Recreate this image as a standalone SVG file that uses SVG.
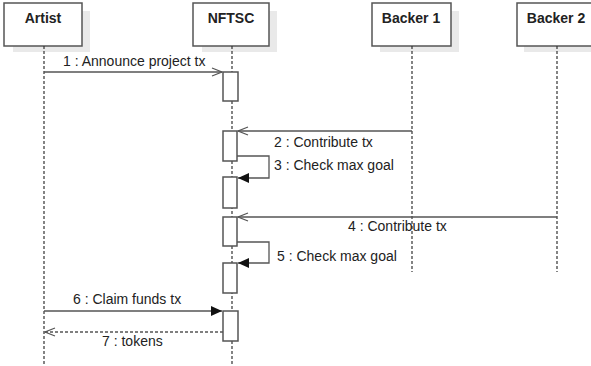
<svg xmlns="http://www.w3.org/2000/svg" width="591" height="366" viewBox="0 0 591 366">
<defs>
<style>
.box{fill:#fff;stroke:#555;stroke-width:1.5}
.shadow{fill:#e9e9e9}
.title{font-family:"Liberation Sans",Arial,sans-serif;font-weight:bold;font-size:14px;fill:#222;text-anchor:middle}
.life{stroke:#333;stroke-width:1.2;stroke-dasharray:3,2;fill:none}
.act{fill:#fff;stroke:#555;stroke-width:1.5}
.msg{stroke:#555;stroke-width:1.3;fill:none}
.ret{stroke:#555;stroke-width:1.3;fill:none;stroke-dasharray:3,2}
.lbl{font-family:"Liberation Sans",Arial,sans-serif;font-size:14px;fill:#222}
</style>
<marker id="open" markerWidth="12" markerHeight="10" refX="11" refY="5" orient="auto" markerUnits="userSpaceOnUse">
<path d="M1,1 L11,5 L1,9" fill="none" stroke="#555" stroke-width="1.3"/>
</marker>
<marker id="fill" markerWidth="12" markerHeight="10" refX="11" refY="5" orient="auto" markerUnits="userSpaceOnUse">
<path d="M0,0 L11,5 L0,10 Z" fill="#111"/>
</marker>
</defs>
<rect width="591" height="366" fill="#fff"/>
<g id="artist">
<rect class="shadow" x="13" y="11" width="77" height="41"/>
<rect class="box" x="4" y="3" width="78" height="43"/>
<text class="title" x="43" y="23">Artist</text>
<line class="life" x1="44" y1="46" x2="44" y2="364"/>
</g>
<g id="nftsc">
<rect class="shadow" x="202" y="11" width="75" height="41"/>
<rect class="box" x="193" y="3" width="76" height="43"/>
<text class="title" x="231" y="23">NFTSC</text>
<line class="life" x1="232" y1="46" x2="232" y2="364"/>
</g>
<g id="backer1">
<rect class="shadow" x="380" y="11" width="79" height="41"/>
<rect class="box" x="372" y="3" width="79" height="43"/>
<text class="title" x="411" y="23">Backer 1</text>
<line class="life" x1="412" y1="46" x2="412" y2="272"/>
</g>
<g id="backer2">
<rect class="shadow" x="524" y="11" width="79" height="41"/>
<rect class="box" x="517" y="3" width="80" height="43"/>
<text class="title" x="556" y="23">Backer 2</text>
<line class="life" x1="557" y1="46" x2="557" y2="272"/>
</g>
<g id="activations">
<rect class="act" x="223" y="72" width="15" height="29"/>
<rect class="act" x="223" y="131" width="14" height="30"/>
<rect class="act" x="223" y="177" width="14" height="31"/>
<rect class="act" x="223" y="217" width="14" height="29"/>
<rect class="act" x="223" y="263" width="14" height="30"/>
<rect class="act" x="223" y="311" width="15" height="30"/>
</g>
<g id="connectors">
<line class="msg" x1="44" y1="72" x2="222" y2="72" marker-end="url(#open)"/>
<text class="lbl" x="63" y="66">1 : Announce project tx</text>
<line class="msg" x1="412" y1="131" x2="238" y2="131" marker-end="url(#open)"/>
<text class="lbl" x="274" y="147">2 : Contribute tx</text>
<path class="msg" d="M237,156 H269 V178 H238" marker-end="url(#fill)"/>
<text class="lbl" x="274" y="170">3 : Check max goal</text>
<line class="msg" x1="557" y1="217" x2="238" y2="217" marker-end="url(#open)"/>
<text class="lbl" x="348" y="231">4 : Contribute tx</text>
<path class="msg" d="M237,242 H269 V263 H238" marker-end="url(#fill)"/>
<text class="lbl" x="277" y="261">5 : Check max goal</text>
<line class="msg" x1="44" y1="311" x2="222" y2="311" marker-end="url(#fill)"/>
<text class="lbl" x="73" y="304">6 : Claim funds tx</text>
<line class="ret" x1="223" y1="332" x2="45" y2="332" marker-end="url(#open)"/>
<text class="lbl" x="102" y="346">7 : tokens</text>
</g>
</svg>
